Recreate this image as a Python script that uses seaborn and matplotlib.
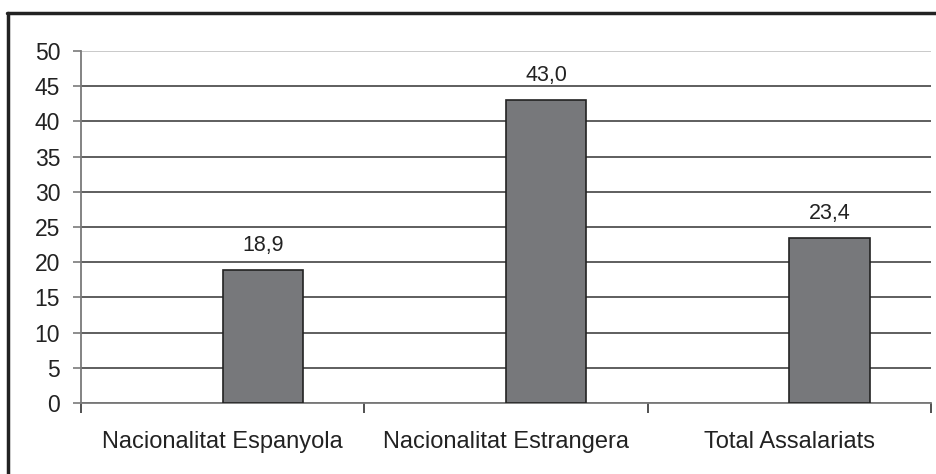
import numpy as np
import pandas as pd
import matplotlib
matplotlib.use('Agg')
import matplotlib.pyplot as plt
from matplotlib.lines import Line2D
import seaborn as sns

categories = ['Nacionalitat Espanyola', 'Nacionalitat Estrangera', 'Total Assalariats']
values = [18.9, 43.0, 23.4]
value_labels = ['18,9', '43,0', '23,4']
y_ticks = [0, 5, 10, 15, 20, 25, 30, 35, 40, 45, 50]

sns.set_style('white')
plt.rcParams['font.family'] = ['Liberation Sans', 'DejaVu Sans']

# empty first series so the bar sits right of the category centre
df = pd.DataFrame({'cat': categories * 2,
                   'val': [0.0] * 3 + values,
                   'serie': ['buit'] * 3 + ['pct'] * 3})

fig = plt.figure(figsize=(9.37, 4.74), dpi=100)
ax = fig.add_axes([0.0864, 0.1498, 0.9072, 0.7426])

sns.barplot(data=df, x='cat', y='val', hue='serie', hue_order=['buit', 'pct'],
            palette={'buit': 'white', 'pct': '#77787b'}, width=0.566,
            edgecolor='#222222', linewidth=1.2, legend=False, ax=ax, zorder=3)

# hide the dummy series
for bar in ax.containers[0]:
    bar.set_visible(False)

ax.set_xlim(-0.5, 2.5)
ax.set_ylim(0, 50)
ax.set_yticks(y_ticks)
ax.yaxis.grid(True, color='#333333', linewidth=1.1, zorder=0)
ax.get_ygridlines()[-1].set_color('#bbbbbb')
ax.set_axisbelow(True)
ax.set_xlabel('')
ax.set_ylabel('')

for side in ['top', 'right']:
    ax.spines[side].set_visible(False)
for side in ['left', 'bottom']:
    ax.spines[side].set_color('#7a7a7a')
    ax.spines[side].set_linewidth(1.3)

ax.tick_params(axis='y', which='major', left=True, length=6, width=1.2,
               color='#7a7a7a', labelsize=16.5, pad=9, labelcolor='#222222')
ax.tick_params(axis='x', which='major', length=0, labelsize=17, pad=20,
               labelcolor='#222222')
ax.set_xticks([-0.5, 0.5, 1.5, 2.5], minor=True)
ax.tick_params(axis='x', which='minor', bottom=True, length=7, width=1.2,
               color='#333333', direction='out')

ax.bar_label(ax.containers[1], labels=value_labels, padding=10, fontsize=15.5,
             color='#222222')

# outer frame (left and top edges visible)
fig.add_artist(Line2D([0.0085, 0.0085], [0.0, 0.972], transform=fig.transFigure,
                      color='#222222', linewidth=2.5))
fig.add_artist(Line2D([0.0075, 1.0], [0.972, 0.972], transform=fig.transFigure,
                      color='#222222', linewidth=2.5))

fig.savefig('out.png', dpi=100)
